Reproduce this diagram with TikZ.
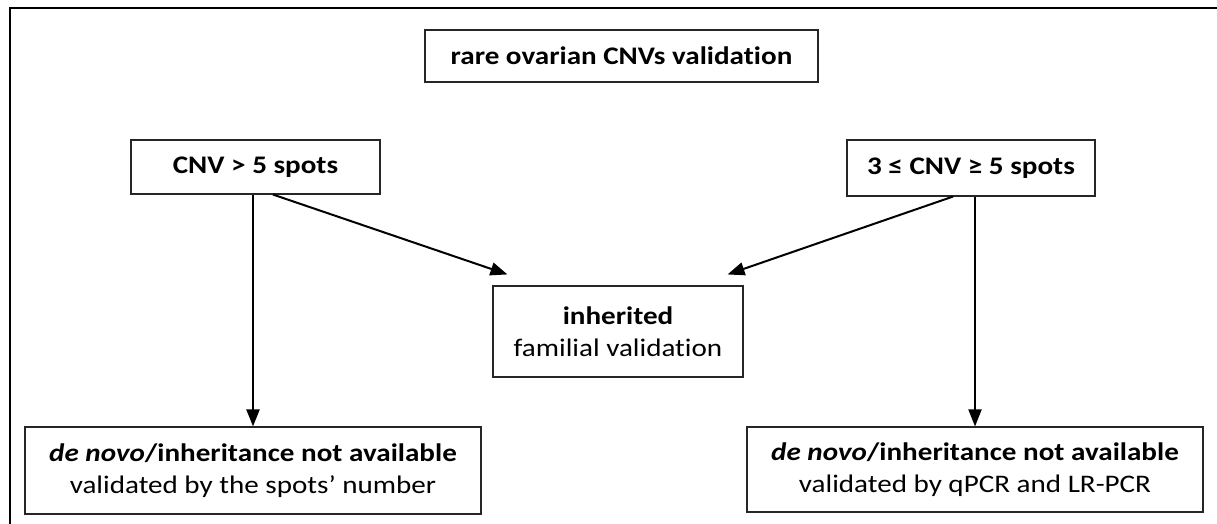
\documentclass[tikz,border=0pt]{standalone}
\usepackage{fontspec}
\setmainfont[FakeStretch=1.15,RawFeature={-liga;-calt;-dlig;-clig}]{Carlito}
\usetikzlibrary{arrows.meta}
\begin{document}
\begin{tikzpicture}[x=1pt,y=-1pt,
  box/.style={draw=black!85, line width=1.1pt, align=center, inner sep=0pt,
              font=\fontsize{25.3}{32}\selectfont},
  arr/.style={line width=2pt, -{Triangle[length=17pt,width=13pt]}},
  frame/.style={line width=2.4pt}]
\useasboundingbox (0,0) rectangle (1217,524);
\draw[frame] (10,524) -- (10,8) -- (1217,8);

\node[box, minimum width=393pt, minimum height=52pt] (title) at (621.5,56) {\textbf{rare ovarian CNVs validation}};
\node[box, minimum width=249pt, minimum height=54pt] (left) at (255.5,167) {\textbf{CNV > 5 spots}};
\node[box, minimum width=248pt, minimum height=56pt] (right) at (971,168) {\textbf{3 ≤ CNV ≥ 5 spots}};
\node[box, minimum width=250pt, minimum height=91pt] (inh) at (618,331.5) {\textbf{inherited}\\familial validation};
\node[box, minimum width=456pt, minimum height=87pt] (bl) at (253,470.5) {\textbf{\textit{de novo}/inheritance not available}\\validated by the spots’ number};
\node[box, minimum width=456pt, minimum height=85pt] (br) at (975,469.5) {\textbf{\textit{de novo}/inheritance not available}\\validated by qPCR and LR-PCR};

\draw[arr] (left.south -| bl.north) -- (bl.north);
\draw[arr] (right.south -| br.north) -- (br.north);
\draw[arr] ([xshift=17.5pt]left.south) -- ([xshift=15pt,yshift=11pt]inh.north west);
\draw[arr] ([xshift=-18pt]right.south) -- ([xshift=-16pt,yshift=11pt]inh.north east);
\end{tikzpicture}
\end{document}
